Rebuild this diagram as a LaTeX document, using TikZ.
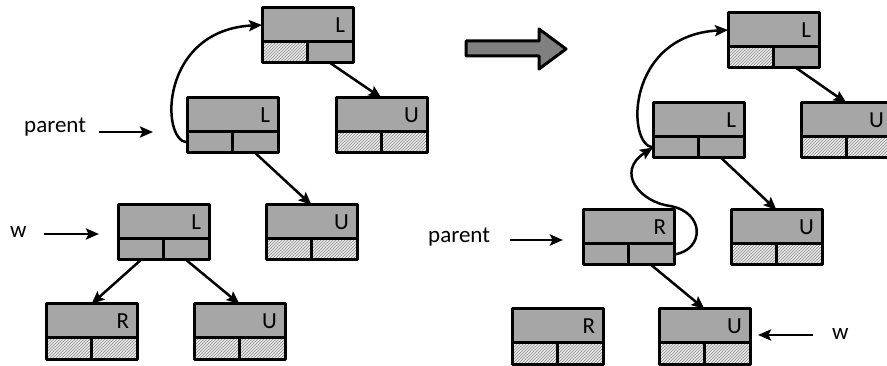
\documentclass[tikz,border=0pt]{standalone}
\usepackage{fontspec}
\setmainfont{Carlito}
\usetikzlibrary{arrows.meta,patterns}

\definecolor{cellgray}{RGB}{166,166,166}
\definecolor{hatchbg}{RGB}{236,236,236}
\definecolor{hatchline}{RGB}{135,135,135}
\definecolor{movegray}{RGB}{128,128,128}

\tikzset{
	cell/.style={draw,line width=3pt,inner sep=0pt,outer sep=0pt},
	celltop/.style={cell,fill=cellgray,minimum width=91pt,minimum height=34pt,
		text width=75pt,inner xsep=8pt,align=right},
	cellbot/.style={cell,minimum width=45.5pt,minimum height=21pt},
	full/.style={fill=cellgray},
	hatch/.style={preaction={fill=hatchbg},pattern=north east lines,pattern color=hatchline},
	tag/.style={anchor=base west,inner sep=0pt},
}

% one record: name, top left corner, letter, left and right lower cell
\newcommand{\recnode}[5]{%
	\node[celltop,anchor=north west] (#1) at (#2) {#3};
	\node[cellbot,#4,anchor=north west] (#1l) at (#1.south west) {};
	\node[cellbot,#5,anchor=north east] (#1r) at (#1.south east) {};
}

\begin{document}
\begin{tikzpicture}[x=1pt,y=-1pt,>={Stealth[length=13pt,width=11pt,inset=2.5pt]},
	line join=round,font=\fontsize{23}{26}\selectfont]
	\useasboundingbox (0,0) rectangle (887,366);
	% before
	\recnode{la}{262,8}{L}{hatch}{full}
	\recnode{lb}{187,98}{L}{full}{full}
	\recnode{lc}{336,98}{U}{hatch}{hatch}
	\recnode{ld}{118,205}{L}{full}{full}
	\recnode{le}{266,205}{U}{hatch}{hatch}
	\recnode{lf}{46,304}{R}{hatch}{hatch}
	\recnode{lg}{194,304}{U}{hatch}{hatch}
	% after
	\recnode{ra}{728,13}{L}{hatch}{full}
	\recnode{rb}{653,103}{L}{full}{full}
	\recnode{rc}{801,103}{U}{hatch}{hatch}
	\recnode{rd}{583,210}{R}{full}{full}
	\recnode{re}{731,210}{U}{hatch}{hatch}
	\recnode{rf}{512,309}{R}{hatch}{hatch}
	\recnode{rg}{659,309}{U}{hatch}{hatch}

	\draw[line width=3pt,fill=movegray] (466,41)--(539,41)--(539,29)--(566,49)
		--(539,69)--(539,56)--(466,56)--cycle;

	\node[tag] (lparent) at (24,133) {parent};
	\node[tag] (lw) at (10,238) {w};
	\node[tag] (rparent) at (428,243) {parent};
	\node[tag] (rw) at (832,340) {w};
	\coordinate (lpt) at (153,132);
	\coordinate (lwt) at (99,234);
	\coordinate (rpt) at (563,240);
	\coordinate (rwt) at (758,335);

	\begin{scope}[line width=2.5pt]
		\draw[->,shorten <=13pt] (lpt -| lparent.east)--(lpt);
		\draw[->,shorten <=17pt] (lwt -| lw.east)--(lwt);
		\draw[->,shorten <=20pt] (rpt -| rparent.east)--(rpt);
		\draw[->,shorten <=19pt] (rwt -| rw.west)--(rwt);
		\foreach \p / \q in {lar/lc,lbr/le,ldl/lf,ldr/lg,rar/rc,rbr/re,rdr/rg}
		\draw[->] (\p.south)--(\q.north);
		\draw[->] (lbl.west) .. controls (160,140) and (160,30) .. (la.west);
		\draw[->] (rbl.west) .. controls (626,145) and (626,35) .. (ra.west);
		\draw[->] (rdr.east) .. controls (705,250) and (705,212) .. (670,206)
			.. controls (640,202) and (615,172) .. (rbl.west);
	\end{scope}
\end{tikzpicture}
\end{document}
